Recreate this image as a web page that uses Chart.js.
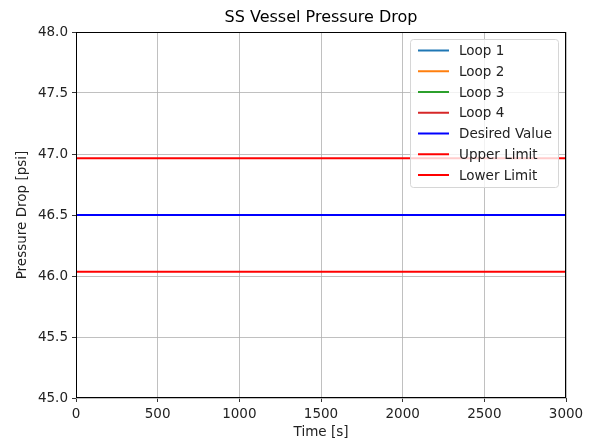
<!DOCTYPE html>
<html>
<head>
<meta charset="utf-8">
<script src="https://cdn.jsdelivr.net/npm/chart.js@4.4.1/dist/chart.umd.min.js"></script>
<style>
  html, body { margin: 0; padding: 0; background: #fff; }
  #wrap { width: 596px; height: 442px; }
</style>
</head>
<body>
<div id="wrap"><canvas id="chart" width="596" height="442"></canvas></div>
<script>
// --- data ---
const timeSeconds = [0, 3000];
const loop1 = [];
const loop2 = [];
const loop3 = [];
const loop4 = [];
const desiredValue = [46.5, 46.5];
const upperLimit = [46.965, 46.965];
const lowerLimit = [46.035, 46.035];
const xTicks = [0, 500, 1000, 1500, 2000, 2500, 3000];
const yTicks = [45.0, 45.5, 46.0, 46.5, 47.0, 47.5, 48.0];

const FONT = 'DejaVu Sans';
const FS = 13.5;

function toPoints(values) {
  return values.map((v, i) => ({ x: timeSeconds[i], y: v }));
}

const series = [
  { label: 'Loop 1', values: loop1, color: '#1f77b4' },
  { label: 'Loop 2', values: loop2, color: '#ff7f0e' },
  { label: 'Loop 3', values: loop3, color: '#2ca02c' },
  { label: 'Loop 4', values: loop4, color: '#d62728' },
  { label: 'Desired Value', values: desiredValue, color: '#0000ff' },
  { label: 'Upper Limit', values: upperLimit, color: '#ff0000' },
  { label: 'Lower Limit', values: lowerLimit, color: '#ff0000' },
];

// frame, title and matplotlib-style legend box
const mplDecor = {
  id: 'mplDecor',
  afterDraw(chart) {
    const { ctx, chartArea: a } = chart;
    ctx.save();
    ctx.strokeStyle = '#000';
    ctx.lineWidth = 1;
    ctx.strokeRect(a.left + 0.5, a.top + 0.5, a.right - a.left - 1, a.bottom - a.top - 1);

    ctx.fillStyle = '#000';
    ctx.font = `16px "${FONT}"`;
    ctx.textAlign = 'center';
    ctx.textBaseline = 'middle';
    ctx.fillText('SS Vessel Pressure Drop', (a.left + a.right) / 2, 18);

    // legend
    const bx = 410, by = 39, bw = 148, bh = 148;
    ctx.fillStyle = 'rgba(255,255,255,0.8)';
    ctx.strokeStyle = '#d6d6d6';
    ctx.beginPath();
    ctx.roundRect(bx + 0.5, by + 0.5, bw, bh, 3);
    ctx.fill();
    ctx.stroke();

    ctx.font = `${FS}px "${FONT}"`;
    ctx.textAlign = 'left';
    chart.data.datasets.forEach((ds, i) => {
      const y = 50.5 + i * 20.75;
      ctx.strokeStyle = ds.borderColor;
      ctx.lineWidth = 2;
      ctx.beginPath();
      ctx.moveTo(418, y);
      ctx.lineTo(449, y);
      ctx.stroke();
      ctx.fillStyle = '#222';
      ctx.fillText(ds.label, 459, y + 1);
    });
    ctx.restore();
  },
};

new Chart(document.getElementById('chart'), {
  type: 'line',
  data: {
    datasets: series.map((s) => ({
      label: s.label,
      data: toPoints(s.values),
      borderColor: s.color,
      backgroundColor: s.color,
      borderWidth: 2,
      pointRadius: 0,
      tension: 0,
      fill: false,
    })),
  },
  options: {
    responsive: false,
    animation: false,
    layout: { padding: { left: 0, right: 30, top: 32, bottom: 0 } },
    scales: {
      x: {
        type: 'linear',
        min: 0,
        max: 3000,
        afterFit: (scale) => { scale.height = 44; },
        afterBuildTicks: (scale) => { scale.ticks = xTicks.map((v) => ({ value: v })); },
        grid: { color: '#b0b0b0', lineWidth: 0.8, tickColor: '#000', tickLength: 4, drawTicks: true },
        border: { display: false },
        ticks: {
          color: '#222',
          padding: 4,
          maxRotation: 0,
          font: { family: FONT, size: FS },
          callback: (v) => String(v),
        },
        title: { display: true, text: 'Time [s]', color: '#222', padding: { top: 0, bottom: 1 }, font: { family: FONT, size: FS } },
      },
      y: {
        type: 'linear',
        min: 45,
        max: 48,
        afterFit: (scale) => { scale.width = 76; },
        afterBuildTicks: (scale) => { scale.ticks = yTicks.map((v) => ({ value: v })); },
        grid: { color: '#b0b0b0', lineWidth: 0.8, tickColor: '#000', tickLength: 4, drawTicks: true },
        border: { display: false },
        ticks: {
          color: '#222',
          padding: 4,
          font: { family: FONT, size: FS },
          callback: (v) => Number(v).toFixed(1),
        },
        title: { display: true, text: 'Pressure Drop [psi]', color: '#222', padding: { top: 14, bottom: 0 }, font: { family: FONT, size: FS } },
      },
    },
    plugins: {
      legend: { display: false },
      title: { display: false },
      tooltip: { enabled: false },
    },
  },
  plugins: [mplDecor],
});
</script>
</body>
</html>
